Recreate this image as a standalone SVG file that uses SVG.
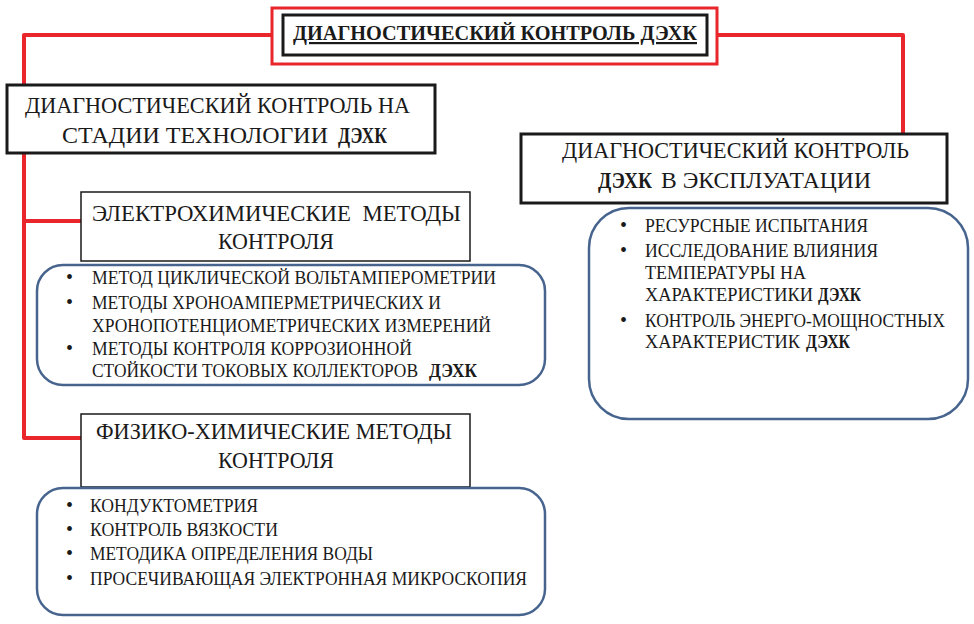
<svg xmlns="http://www.w3.org/2000/svg" width="974" height="624" viewBox="0 0 974 624" font-family="'Liberation Serif', 'DejaVu Serif', serif">
<style>
text{font-family:"Liberation Serif","DejaVu Serif",serif;fill:#1a1a1a}
.h{font-size:23px}
.li{font-size:19px}
.bul{font-size:20px}
.b{font-weight:bold}
.box{fill:#fff;stroke:#1a1a1a;stroke-width:3}
.thin{fill:#fff;stroke:#1a1a1a;stroke-width:1.5}
.rnd{fill:#fff;stroke:#46648e;stroke-width:2.5}
.con{fill:none;stroke:#e8262b;stroke-width:4;stroke-linejoin:round}
</style>
<rect width="974" height="624" fill="#fff"/>
<g id="connectors">
<path class="con" d="M272,35 H24 V438 H81"/>
<path class="con" d="M24,221 H81"/>
<path class="con" d="M717,35 H903 V134"/>
</g>
<g id="title">
<rect x="272" y="8" width="445" height="56" fill="#fff" stroke="#e8262b" stroke-width="3"/>
<rect x="283" y="15" width="424" height="40" class="box"/>
<text x="293" y="40" font-size="22" class="b" text-decoration="underline" textLength="404" lengthAdjust="spacingAndGlyphs">ДИАГНОСТИЧЕСКИЙ КОНТРОЛЬ ДЭХК</text>
</g>
<g id="stage-tech">
<rect x="7" y="85" width="428" height="68" class="box"/>
<text class="h" x="25" y="113" textLength="385" lengthAdjust="spacingAndGlyphs">ДИАГНОСТИЧЕСКИЙ КОНТРОЛЬ НА</text>
<text class="h" x="62" y="143" textLength="266" lengthAdjust="spacingAndGlyphs">СТАДИИ ТЕХНОЛОГИИ</text>
<text class="h b" x="338" y="143" textLength="49" lengthAdjust="spacingAndGlyphs">ДЭХК</text>
</g>
<g id="exploitation">
<rect x="521" y="134" width="426" height="69" class="box"/>
<text class="h" x="562" y="158" textLength="347" lengthAdjust="spacingAndGlyphs">ДИАГНОСТИЧЕСКИЙ КОНТРОЛЬ</text>
<text class="h b" x="598" y="188" textLength="54" lengthAdjust="spacingAndGlyphs">ДЭХК</text>
<text class="h" x="661" y="188" textLength="210" lengthAdjust="spacingAndGlyphs">В ЭКСПЛУАТАЦИИ</text>
</g>
<g id="electrochem">
<rect x="81" y="192" width="389" height="69" class="thin"/>
<text class="h" x="92" y="221" xml:space="preserve" textLength="369" lengthAdjust="spacingAndGlyphs">ЭЛЕКТРОХИМИЧЕСКИЕ  МЕТОДЫ</text>
<text class="h" x="218" y="249" textLength="116" lengthAdjust="spacingAndGlyphs">КОНТРОЛЯ</text>
</g>
<g id="electrochem-list">
<rect x="37" y="265" width="508" height="120" rx="26" class="rnd"/>
<text class="bul" x="66" y="284">•</text>
<text class="bul" x="66" y="309">•</text>
<text class="bul" x="66" y="355">•</text>
<text class="li" x="92" y="284" textLength="404" lengthAdjust="spacingAndGlyphs">МЕТОД ЦИКЛИЧЕСКОЙ ВОЛЬТАМПЕРОМЕТРИИ</text>
<text class="li" x="92" y="309" textLength="349" lengthAdjust="spacingAndGlyphs">МЕТОДЫ ХРОНОАМПЕРМЕТРИЧЕСКИХ И</text>
<text class="li" x="92" y="332" textLength="399" lengthAdjust="spacingAndGlyphs">ХРОНОПОТЕНЦИОМЕТРИЧЕСКИХ ИЗМЕРЕНИЙ</text>
<text class="li" x="92" y="355" textLength="320" lengthAdjust="spacingAndGlyphs">МЕТОДЫ КОНТРОЛЯ КОРРОЗИОННОЙ</text>
<text class="li" x="92" y="377" textLength="326" lengthAdjust="spacingAndGlyphs">СТОЙКОСТИ ТОКОВЫХ КОЛЛЕКТОРОВ</text>
<text class="li b" x="429" y="377" textLength="48" lengthAdjust="spacingAndGlyphs">ДЭХК</text>
</g>
<g id="physchem">
<rect x="81" y="414" width="389" height="73" class="thin"/>
<text class="h" x="96" y="439" textLength="356" lengthAdjust="spacingAndGlyphs">ФИЗИКО-ХИМИЧЕСКИЕ МЕТОДЫ</text>
<text class="h" x="218" y="468" textLength="116" lengthAdjust="spacingAndGlyphs">КОНТРОЛЯ</text>
</g>
<g id="physchem-list">
<rect x="37" y="488" width="508" height="127" rx="26" class="rnd"/>
<text class="bul" x="66" y="512">•</text>
<text class="bul" x="66" y="536">•</text>
<text class="bul" x="66" y="560">•</text>
<text class="bul" x="66" y="585">•</text>
<text class="li" x="90" y="512" textLength="168" lengthAdjust="spacingAndGlyphs">КОНДУКТОМЕТРИЯ</text>
<text class="li" x="90" y="536" textLength="188" lengthAdjust="spacingAndGlyphs">КОНТРОЛЬ ВЯЗКОСТИ</text>
<text class="li" x="90" y="560" textLength="283" lengthAdjust="spacingAndGlyphs">МЕТОДИКА ОПРЕДЕЛЕНИЯ ВОДЫ</text>
<text class="li" x="90" y="585" textLength="437" lengthAdjust="spacingAndGlyphs">ПРОСЕЧИВАЮЩАЯ ЭЛЕКТРОННАЯ МИКРОСКОПИЯ</text>
</g>
<g id="exploitation-list">
<rect x="589" y="208" width="379" height="211" rx="40" class="rnd"/>
<text class="bul" x="620" y="232">•</text>
<text class="bul" x="620" y="257">•</text>
<text class="bul" x="620" y="327">•</text>
<text class="li" x="645" y="232" textLength="223" lengthAdjust="spacingAndGlyphs">РЕСУРСНЫЕ ИСПЫТАНИЯ</text>
<text class="li" x="645" y="257" textLength="233" lengthAdjust="spacingAndGlyphs">ИССЛЕДОВАНИЕ ВЛИЯНИЯ</text>
<text class="li" x="645" y="279" textLength="161" lengthAdjust="spacingAndGlyphs">ТЕМПЕРАТУРЫ НА</text>
<text class="li" x="645" y="301" textLength="168" lengthAdjust="spacingAndGlyphs">ХАРАКТЕРИСТИКИ</text>
<text class="li b" x="818" y="301" textLength="43" lengthAdjust="spacingAndGlyphs">ДЭХК</text>
<text class="li" x="645" y="327" textLength="300" lengthAdjust="spacingAndGlyphs">КОНТРОЛЬ ЭНЕРГО-МОЩНОСТНЫХ</text>
<text class="li" x="645" y="348" textLength="155" lengthAdjust="spacingAndGlyphs">ХАРАКТЕРИСТИК</text>
<text class="li b" x="806" y="348" textLength="44" lengthAdjust="spacingAndGlyphs">ДЭХК</text>
</g>
</svg>
